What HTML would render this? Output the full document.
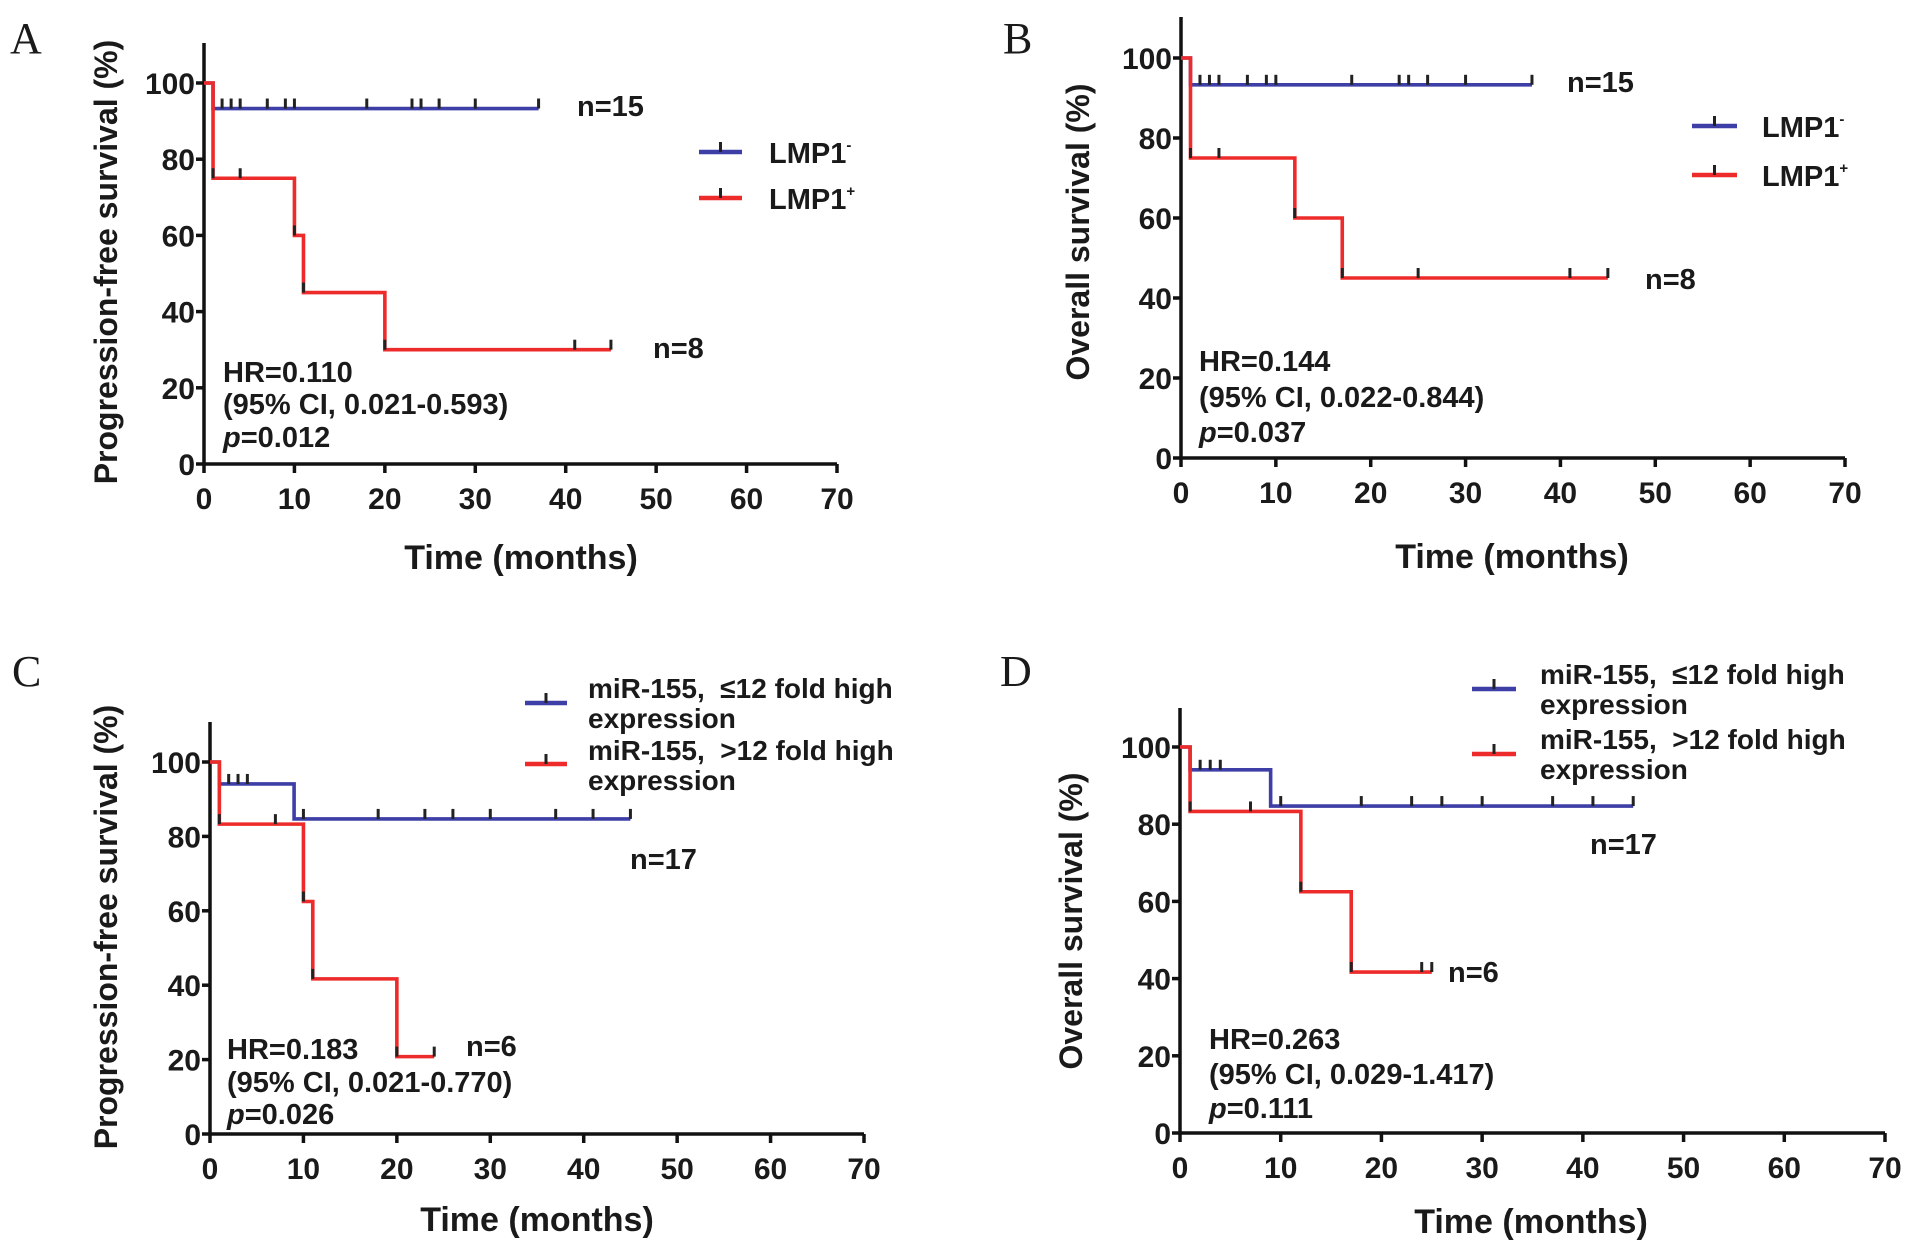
<!DOCTYPE html>
<html><head><meta charset="utf-8"><style>
html,body{margin:0;padding:0;background:#fff;}
svg{display:block;}
text{font-family:"Liberation Sans",Arial,sans-serif;font-weight:bold;fill:#1a1a1a;white-space:pre;}
.letter{font-family:"Liberation Serif",serif;font-weight:normal;font-size:44px;}
</style></head><body>
<svg id="fig" width="1913" height="1253" viewBox="0 0 1913 1253"></svg>
<script>
// ---- data ----
const xTicks = [0,10,20,30,40,50,60,70];
const yTicks = [0,20,40,60,80,100];
// Panel A
const aBlueT = [0,1,37];       const aBlueS = [100,93.3,93.3];
const aBlueCens = [2,3,4,7,9,10,18,23,24,26,30,37];
const aRedT = [0,1,10,11,20,45]; const aRedS = [100,75,60,45,30,30];
const aRedCens = [1,4,10,11,20,41,45];
// Panel B
const bBlueT = [0,1,37];       const bBlueS = [100,93.3,93.3];
const bBlueCens = [2,3,4,7,9,10,18,23,24,26,30,37];
const bRedT = [0,1,12,17,45];  const bRedS = [100,75,60,45,45];
const bRedCens = [1,4,12,17,25,41,45];
// Panel C
const cBlueT = [0,1,9,45];     const cBlueS = [100,94.1,84.7,84.7];
const cBlueCens = [2,3,4,10,18,23,26,30,37,41,45];
const cRedT = [0,1,10,11,20,24]; const cRedS = [100,83.3,62.5,41.7,20.8,20.8];
const cRedCens = [1,7,10,11,20,24];
// Panel D
const dBlueT = [0,1,9,45];     const dBlueS = [100,94.1,84.7,84.7];
const dBlueCens = [2,3,4,10,18,23,26,30,37,41,45];
const dRedT = [0,1,12,17,25];  const dRedS = [100,83.3,62.5,41.7,41.7];
const dRedCens = [1,7,12,17,24,25];

const BLUE="#3d3fa6", RED="#ee2b2b";
const NS="http://www.w3.org/2000/svg";
const svg=document.getElementById('fig');
function el(tag,attrs,parent,txt){const e=document.createElementNS(NS,tag);for(const k in attrs)e.setAttribute(k,attrs[k]);if(txt!==undefined)e.textContent=txt;(parent||svg).appendChild(e);return e;}

function panel(p){
  const g=el('g',{});
  
  
  const sx=v=>p.x0+(p.x70-p.x0)*v/70;
  const sy=v=>p.y0+(p.y100-p.y0)*v/100;
  const L=el('text',{x:p.letter[0],y:p.letter[1],class:'letter'},g,p.id);
  
  
  const ya=el('line',{x1:p.x0,y1:p.top,x2:p.x0,y2:p.y0,stroke:'#111','stroke-width':3.5},g);
  
  
  const xa=el('line',{x1:p.x0,y1:p.y0,x2:sx(70),y2:p.y0,stroke:'#111','stroke-width':3.5},g);
  
  
  yTicks.forEach(v=>{
    el('line',{x1:p.x0-8,y1:sy(v),x2:p.x0,y2:sy(v),stroke:'#111','stroke-width':3.5},g);
    const t=el('text',{x:p.x0-9,y:sy(v)+11,'text-anchor':'end','font-size':30},g,v);
    
    
  });
  xTicks.forEach(v=>{
    el('line',{x1:sx(v),y1:p.y0,x2:sx(v),y2:p.y0+9,stroke:'#111','stroke-width':3.5},g);
    const t=el('text',{x:sx(v),y:p.y0+45,'text-anchor':'middle','font-size':30},g,v);
    
    
  });
  const xt=el('text',{x:p.xt[0],y:p.xt[1],'text-anchor':'middle','font-size':34},g,'Time (months)');
  
  
  const yt=el('text',{x:0,y:0,'text-anchor':'middle','font-size':32,transform:`translate(${p.yt[0]},${p.yt[1]}) rotate(-90)`},g,p.ytitle);
  
  
  p.series.forEach(s=>{
    let d=`M${sx(s.t[0])},${sy(s.s[0])}`;
    for(let i=1;i<s.t.length;i++){d+=` H${sx(s.t[i])} V${sy(s.s[i])}`;}
    const path=el('path',{d:d,fill:'none',stroke:s.c,'stroke-width':3.6},g);
    
    
    s.cens.forEach(c=>{
      let val=s.s[0];for(let i=0;i<s.t.length;i++){if(s.t[i]<=c)val=s.s[i];}
      const m=el('line',{x1:sx(c),y1:sy(val)-10,x2:sx(c),y2:sy(val),stroke:'#222','stroke-width':3},g);
      
      
    });
  });
  p.legend.forEach(l=>{
    const lg=el('g',{},g);
    
    
    el('line',{x1:l.x1,y1:l.y,x2:l.x2,y2:l.y,stroke:l.c,'stroke-width':4.5},lg);
    el('line',{x1:(l.x1+l.x2)/2,y1:l.y-10,x2:(l.x1+l.x2)/2,y2:l.y,stroke:'#222','stroke-width':3},lg);
    l.lines.forEach((tx,i)=>{
      const t=el('text',{x:l.tx,y:l.ty+i*30,'font-size':l.fs},lg);
      t.innerHTML=tx;
    });
  });
  p.notes.forEach(n=>{
    const t=el('text',{x:n[0],y:n[1],'font-size':29},g);
    t.innerHTML=n[2];
    
    
  });
}

panel({id:'A',x0:204,x70:837,y0:464,y100:83,top:43,letter:[10,53],xt:[521,569],yt:[117,262],
  ytitle:'Progression-free survival (%)',
  series:[{name:'lmp1-neg',c:BLUE,t:aBlueT,s:aBlueS,cens:aBlueCens},{name:'lmp1-pos',c:RED,t:aRedT,s:aRedS,cens:aRedCens}],
  legend:[{x1:699,x2:742,y:152,c:BLUE,tx:769,ty:163,fs:29,lines:['LMP1<tspan font-size="15" dy="-13">-</tspan>']},
          {x1:699,x2:742,y:198,c:RED,tx:769,ty:209,fs:29,lines:['LMP1<tspan font-size="15" dy="-13">+</tspan>']}],
  notes:[[577,116,'n=15'],[653,358,'n=8'],[223,382,'HR=0.110'],[223,414,'(95% CI, 0.021-0.593)'],[223,447,'<tspan font-style="italic">p</tspan>=0.012']]});

panel({id:'B',x0:1181,x70:1845,y0:458,y100:58,top:17,letter:[1003,53],xt:[1512,568],yt:[1089,232],
  ytitle:'Overall survival (%)',
  series:[{name:'lmp1-neg',c:BLUE,t:bBlueT,s:bBlueS,cens:bBlueCens},{name:'lmp1-pos',c:RED,t:bRedT,s:bRedS,cens:bRedCens}],
  legend:[{x1:1692,x2:1737,y:126,c:BLUE,tx:1762,ty:137,fs:29,lines:['LMP1<tspan font-size="15" dy="-13">-</tspan>']},
          {x1:1692,x2:1737,y:175,c:RED,tx:1762,ty:186,fs:29,lines:['LMP1<tspan font-size="15" dy="-13">+</tspan>']}],
  notes:[[1567,92,'n=15'],[1645,289,'n=8'],[1199,371,'HR=0.144'],[1199,407,'(95% CI, 0.022-0.844)'],[1199,442,'<tspan font-style="italic">p</tspan>=0.037']]});

panel({id:'C',x0:210,x70:864,y0:1134,y100:762,top:722,letter:[12,686],xt:[537,1231],yt:[117,927],
  ytitle:'Progression-free survival (%)',
  series:[{name:'mir155-low',c:BLUE,t:cBlueT,s:cBlueS,cens:cBlueCens},{name:'mir155-high',c:RED,t:cRedT,s:cRedS,cens:cRedCens}],
  legend:[{x1:525,x2:567,y:703,c:BLUE,tx:588,ty:698,fs:28,lines:['miR-155,  ≤12 fold high','expression']},
          {x1:525,x2:567,y:764,c:RED,tx:588,ty:760,fs:28,lines:['miR-155,  &gt;12 fold high','expression']}],
  notes:[[630,869,'n=17'],[466,1056,'n=6'],[227,1059,'HR=0.183'],[227,1092,'(95% CI, 0.021-0.770)'],[227,1124,'<tspan font-style="italic">p</tspan>=0.026']]});

panel({id:'D',x0:1180,x70:1885,y0:1133,y100:747,top:708,letter:[1000,686],xt:[1531,1233],yt:[1082,921],
  ytitle:'Overall survival (%)',
  series:[{name:'mir155-low',c:BLUE,t:dBlueT,s:dBlueS,cens:dBlueCens},{name:'mir155-high',c:RED,t:dRedT,s:dRedS,cens:dRedCens}],
  legend:[{x1:1472,x2:1516,y:689,c:BLUE,tx:1540,ty:684,fs:28,lines:['miR-155,  ≤12 fold high','expression']},
          {x1:1472,x2:1516,y:754,c:RED,tx:1540,ty:749,fs:28,lines:['miR-155,  &gt;12 fold high','expression']}],
  notes:[[1590,854,'n=17'],[1448,982,'n=6'],[1209,1049,'HR=0.263'],[1209,1084,'(95% CI, 0.029-1.417)'],[1209,1118,'<tspan font-style="italic">p</tspan>=0.111']]});
</script>
</body></html>
